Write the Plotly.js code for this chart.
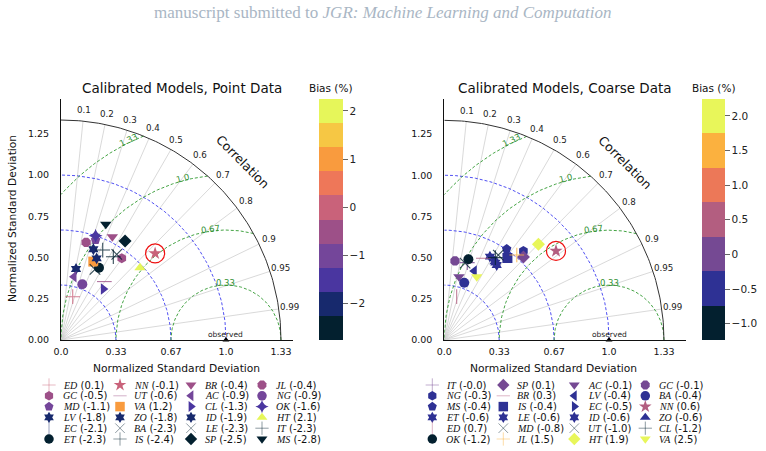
<!DOCTYPE html>
<html>
<head>
<meta charset="utf-8">
<script src="https://cdn.plot.ly/plotly-3.0.1.min.js"></script>
<style>
  html, body { margin: 0; padding: 0; background: #fff; }
  #chart { width: 766px; height: 451px; }
</style>
</head>
<body>
<div id="chart"></div>
<script>
// ---------- Calibrated models, point data ----------
const pointCodes = ['ED','GC','MD','LV','EC','ET','NN','UT','VA','ZO','BA','IS',
                    'BR','AC','CL','ID','LE','SP','JL','NG','OK','HT','IT','MS'];
const pointBias  = [0.1,-0.5,-1.1,-1.8,-2.1,-2.3,-0.1,-0.6,1.2,-1.8,-2.3,-2.4,
                    -0.4,-0.9,-1.3,-1.9,-2.3,-2.5,-0.4,-0.9,-1.6,2.1,-2.3,-2.8];
const pointStd   = [0.272,0.617,0.641,0.440,0.505,0.495,0.775,0.441,0.514,0.540,0.619,0.596,
                    0.699,0.392,0.402,0.584,0.475,0.715,0.611,0.362,0.666,0.649,0.601,0.752];
const pointCorr  = [0.261,0.597,0.327,0.207,0.432,0.465,0.736,0.596,0.381,0.400,0.546,0.532,
                    0.445,0.201,0.639,0.336,0.434,0.543,0.249,0.357,0.315,0.738,0.421,0.361];

// ---------- Calibrated models, coarse data ----------
const coarseCodes = ['IT','NG','MS','ET','ED','OK','SP','BR','IS','LE','MD','JL',
                     'AC','LV','EC','ID','UT','HT','GC','BA','NN','ZO','CL','VA'];
const coarseBias  = [-0.04,-0.3,-0.4,-0.6,0.7,-1.2,0.1,0.3,-0.4,-0.6,-0.8,1.5,
                     -0.1,-0.4,-0.5,-0.6,-1.0,1.9,-0.1,-0.4,0.6,-0.6,-1.2,2.5];
const coarseStd   = [0.490,0.723,0.670,0.577,0.274,0.511,0.696,0.550,0.628,0.563,0.483,0.678,
                     0.394,0.457,0.575,0.555,0.611,0.815,0.484,0.368,0.867,0.566,0.588,0.432];
const coarseCorr  = [0.285,0.664,0.565,0.480,0.274,0.286,0.690,0.431,0.610,0.551,0.261,0.649,
                     0.226,0.398,0.522,0.573,0.536,0.701,0.134,0.328,0.782,0.544,0.527,0.456];

// Reference model highlighted with a ring
const highlightCode = 'NN';

// Axis tick labels
const stdTickVals   = [0, 1/3, 2/3, 1, 4/3];
const stdTickText   = ['0.0', '0.33', '0.67', '1.0', '1.33'];
const yTickVals     = [0, 0.25, 0.5, 0.75, 1.0, 1.25];
const corrTicks     = [0.1, 0.2, 0.3, 0.4, 0.5, 0.6, 0.7, 0.8, 0.9, 0.95, 0.99];
const rmsLevels     = [1/3, 2/3, 1.0, 4/3];
const rmsLabels     = ['0.33', '0.67', '1.0', '1.33'];
const stdArcs       = [1/3, 2/3, 1.0];

// ---------- styles ----------
const pointSymbols = ['cross-thin-open','hexagon','pentagon','hexagram','line-ns-open','circle',
  'star','line-ew-open','square','hexagram','x-thin-open','cross-thin-open',
  'triangle-down','triangle-left','triangle-right','hexagram','x-thin-open','diamond',
  'octagon','circle','star-diamond','triangle-up','cross-thin-open','triangle-down'];
const coarseSymbols = ['cross-thin-open','hexagon','pentagon','hexagram','line-ns-open','circle',
  'diamond','line-ew-open','square','hexagram','x-thin-open','cross-thin-open',
  'triangle-down','triangle-left','triangle-right','hexagram','x-thin-open','diamond',
  'octagon','circle','star','triangle-up','cross-thin-open','triangle-down'];

const thermal10 = ['#03202f','#17296d','#4a36a0','#74469a','#9d5088','#c9627a','#ee7759','#f99b3e','#f6c744','#e6f65a'];
const thermal7  = ['#03202f','#2e3194','#754993','#b35e80','#ec7858','#fbb13f','#e8f65a'];

function bands(cols) {
  const n = cols.length, s = [];
  cols.forEach((c, i) => { s.push([i / n, c]); s.push([(i + 1) / n, c]); });
  return s;
}

const W = 766, H = 451;
const fx = p => p / W;
const fy = p => 1 - p / H;
const R = 4 / 3;
const SANS = 'DejaVu Sans';
const SERIF = 'Liberation Serif';
const isThin = s => s.indexOf('-open') > 0;

const panels = [
  { codes: pointCodes, bias: pointBias, std: pointStd, corr: pointCorr, symbols: pointSymbols,
    xa: 'x', ya: 'y', scale: bands(thermal10), cmin: -2.76, cmax: 2.24,
    cbX: 319, cbThick: 24, cbTicks: [-2, -1, 0, 1, 2], cbText: null,
    title: 'Calibrated Models, Point Data', titleX: 182, xlabX: 176, legX: 49 },
  { codes: coarseCodes, bias: coarseBias, std: coarseStd, corr: coarseCorr, symbols: coarseSymbols,
    xa: 'x2', ya: 'y2', scale: bands(thermal7), cmin: -1.24, cmax: 2.24,
    cbX: 702, cbThick: 23, cbTicks: [-1, -0.5, 0, 0.5, 1, 1.5, 2],
    cbText: ['\u22121.0', '\u22120.5', '0', '0.5', '1.0', '1.5', '2.0'],
    title: 'Calibrated Models, Coarse Data', titleX: 565, xlabX: 553, legX: 432.3 }
];

const traces = [];
const annotations = [];

// free text placed in page pixels
function pageText(px, py, text, font, extra) {
  annotations.push(Object.assign({
    xref: 'paper', yref: 'paper', x: fx(px), y: fy(py),
    xanchor: 'center', yanchor: 'middle', showarrow: false, text: text, font: font
  }, extra || {}));
}

// page header
pageText(383, 12, 'manuscript submitted to <i>JGR: Machine Learning and Computation</i>',
  { family: SERIF, size: 17, color: '#a9b6c4' });

function addLines(p, xs, ys, line) {
  traces.push({ type: 'scatter', mode: 'lines', x: xs, y: ys, xaxis: p.xa, yaxis: p.ya,
    line: line, hoverinfo: 'skip', showlegend: false });
}

panels.forEach(p => {
  // correlation rays
  let gx = [], gy = [];
  corrTicks.forEach(c => {
    const s = Math.sqrt(1 - c * c);
    gx.push(0, R * c, null); gy.push(0, R * s, null);
  });
  addLines(p, gx, gy, { color: '#cfcfcf', width: 0.8 });

  // standard deviation arcs around the origin
  let bx = [], by = [];
  stdArcs.forEach(r => {
    for (let k = 0; k <= 90; k++) {
      const a = k / 90 * Math.PI / 2;
      bx.push(r * Math.cos(a)); by.push(r * Math.sin(a));
    }
    bx.push(null); by.push(null);
  });
  addLines(p, bx, by, { color: '#3c3cf0', width: 0.9, dash: '3px,2px' });

  // centred RMS difference arcs around the observation point
  let rx = [], ry = [];
  rmsLevels.forEach(r => {
    const a0 = Math.acos(Math.min(1, (R * R - 1 - r * r) / (2 * r)));
    const a1 = Math.acos(Math.max(-1, -1 / r));
    for (let k = 0; k <= 120; k++) {
      const a = a0 + (a1 - a0) * k / 120;
      rx.push(1 + r * Math.cos(a)); ry.push(r * Math.sin(a));
    }
    rx.push(null); ry.push(null);
  });
  addLines(p, rx, ry, { color: '#2f992f', width: 0.9, dash: '3px,2px' });

  // outer boundary
  let ox = [], oy = [];
  for (let k = 0; k <= 120; k++) {
    const a = k / 120 * Math.PI / 2;
    ox.push(R * Math.cos(a)); oy.push(R * Math.sin(a));
  }
  addLines(p, ox, oy, { color: '#333333', width: 1 });

  // observation marker
  traces.push({ type: 'scatter', mode: 'markers', x: [1], y: [0], xaxis: p.xa, yaxis: p.ya,
    marker: { symbol: 'triangle-up', size: 6, color: '#000' }, cliponaxis: false,
    hoverinfo: 'skip', showlegend: false });
  annotations.push({ xref: p.xa, yref: p.ya, x: 1, y: 0.036, xanchor: 'center', yanchor: 'middle',
    showarrow: false, text: 'observed', font: { family: SANS, size: 7.5, color: '#222' } });

  // model points
  const xs = p.std.map((s, i) => s * p.corr[i]);
  const ys = p.std.map((s, i) => s * Math.sqrt(1 - p.corr[i] * p.corr[i]));
  traces.push({
    type: 'scatter', mode: 'markers', x: xs, y: ys, xaxis: p.xa, yaxis: p.ya,
    text: p.codes, hoverinfo: 'text', showlegend: false,
    marker: {
      symbol: p.symbols,
      size: p.symbols.map(s => isThin(s) ? 10.5 : (s === 'hexagram' ? 9 : 10)),
      color: p.bias, colorscale: p.scale, cmin: p.cmin, cmax: p.cmax,
      opacity: p.symbols.map(s => isThin(s) ? 0.8 : 1),
      line: { width: p.symbols.map(s => isThin(s) ? 1.1 : 0), color: 'rgba(0,0,0,0)' },
      showscale: true,
      colorbar: {
        x: fx(p.cbX), xanchor: 'left', xref: 'paper', xpad: 0,
        y: fy(99.3), yanchor: 'top', yref: 'paper', ypad: 0,
        len: 240.7, lenmode: 'pixels', thickness: p.cbThick, thicknessmode: 'pixels',
        outlinewidth: 0, ticks: 'outside', ticklen: 5, tickwidth: 1, tickcolor: '#666',
        tickvals: p.cbTicks, ticktext: p.cbText || undefined,
        tickfont: { family: SANS, size: 10.5, color: '#222' }
      }
    }
  });

  // ring around the highlighted model
  const h = p.codes.indexOf(highlightCode);
  traces.push({ type: 'scatter', mode: 'markers', x: [xs[h]], y: [ys[h]], xaxis: p.xa, yaxis: p.ya,
    marker: { symbol: 'circle-open', size: 19, color: '#ee1111', line: { width: 1.2 } },
    hoverinfo: 'skip', showlegend: false });

  // correlation tick labels
  corrTicks.forEach(c => {
    annotations.push({ xref: p.xa, yref: p.ya, x: 1.4 * c, y: 1.4 * Math.sqrt(1 - c * c),
      showarrow: false, text: String(c), xanchor: 'center', yanchor: 'middle',
      font: { family: SANS, size: 8.7, color: '#222' } });
  });
  const ca = 44.5 * Math.PI / 180;
  annotations.push({ xref: p.xa, yref: p.ya, x: 1.54 * Math.cos(ca), y: 1.54 * Math.sin(ca),
    xanchor: 'center', yanchor: 'middle',
    showarrow: false, text: 'Correlation', textangle: 45,
    font: { family: SANS, size: 12.5, color: '#111' } });

  // RMS arc labels
  const rmsAngles = [90, 98, 104.8, 116];
  rmsLevels.forEach((r, i) => {
    const a = rmsAngles[i] * Math.PI / 180;
    annotations.push({ xref: p.xa, yref: p.ya, x: 1 + (r + 0.015) * Math.cos(a), y: (r + 0.015) * Math.sin(a),
      xanchor: 'center', yanchor: 'middle',
      showarrow: false, text: rmsLabels[i], textangle: -(rmsAngles[i] - 90),
      font: { family: SANS, size: 8.5, color: '#2f8f2f' } });
  });

  // panel title, axis label, colour bar title
  pageText(p.titleX, 88, p.title, { family: SANS, size: 13.5, color: '#111' });
  pageText(p.xlabX, 368, 'Normalized Standard Deviation', { family: SANS, size: 10.7, color: '#111' });
  pageText(p.cbX + p.cbThick / 2, 88, 'Bias (%)', { family: SANS, size: 10.5, color: '#111' });

  // legend block: 4 columns of 6 entries
  const lx = [], ly = [];
  p.codes.forEach((code, i) => {
    const col = Math.floor(i / 6), row = i % 6;
    const mx = p.legX + col * 71, my = 385 + row * 10.8;
    lx.push(mx); ly.push(my);
    annotations.push({ xref: 'x3', yref: 'y3', x: mx + 11.5, y: my, xanchor: 'left', yanchor: 'middle',
      showarrow: false,
      text: '<span style="font-family:' + SERIF + '"><i>' + code + '</i></span> (' + p.bias[i].toFixed(1) + ')',
      font: { family: SANS, size: 10, color: '#111' } });
  });
  traces.push({ type: 'scatter', mode: 'markers', x: lx, y: ly, xaxis: 'x3', yaxis: 'y3',
    hoverinfo: 'skip', showlegend: false,
    marker: { symbol: p.symbols, size: p.symbols.map(s => isThin(s) ? 9.5 : (s === 'hexagram' ? 8.5 : 9.5)),
      color: p.bias, colorscale: p.scale, cmin: p.cmin, cmax: p.cmax,
      opacity: p.symbols.map(s => isThin(s) ? 0.45 : 1),
      line: { width: p.symbols.map(s => isThin(s) ? 1 : 0), color: 'rgba(0,0,0,0)' } } });
});

// left panel y label
pageText(12, 219, 'Normalized Standard Deviation', { family: SANS, size: 10.7, color: '#111' }, { textangle: -90 });

const xAx = (d0, d1, r1) => ({
  domain: [fx(d0), fx(d1)], range: [0, r1], showgrid: false, zeroline: false,
  showline: true, linecolor: '#111', linewidth: 1, ticks: '', ticklabelstandoff: 3,
  tickvals: stdTickVals, ticktext: stdTickText,
  tickfont: { family: SANS, size: 9.5, color: '#111' }, fixedrange: true
});
const yAx = (r1, anchor) => ({
  domain: [fy(340), fy(99.3)], range: [0, r1], anchor: anchor, showgrid: false, zeroline: false,
  showline: true, linecolor: '#111', linewidth: 1, ticks: '', ticklabelstandoff: 9,
  tickvals: yTickVals, tickformat: '.2f',
  tickfont: { family: SANS, size: 9.5, color: '#111' }, fixedrange: true
});

const layout = {
  width: W, height: H, margin: { l: 0, r: 0, t: 0, b: 0 },
  paper_bgcolor: '#fff', plot_bgcolor: 'rgba(0,0,0,0)', showlegend: false,
  xaxis: Object.assign(xAx(61, 293.3, 1.408), { anchor: 'y' }),
  yaxis: yAx(1.459, 'x'),
  xaxis2: Object.assign(xAx(444.3, 686, 1.467), { anchor: 'y2' }),
  yaxis2: yAx(1.461, 'x2'),
  xaxis3: { domain: [0, 1], range: [0, W], visible: false, anchor: 'y3', fixedrange: true },
  yaxis3: { domain: [0, 1], range: [H, 0], visible: false, anchor: 'x3', fixedrange: true },
  annotations: annotations
};

Plotly.newPlot('chart', traces, layout, { displayModeBar: false, staticPlot: true });
</script>
</body>
</html>
